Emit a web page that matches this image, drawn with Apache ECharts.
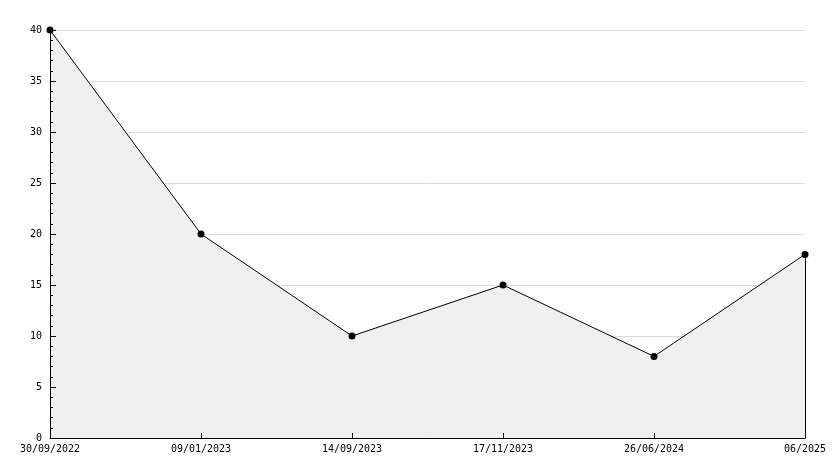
<!DOCTYPE html>
<html><head><meta charset="utf-8">
<script src="https://cdn.jsdelivr.net/npm/echarts@6/dist/echarts.min.js"></script>
<style>html,body{margin:0;padding:0;background:#fff}#c{width:834px;height:468px}</style>
</head><body><div id="c"></div>
<script>
const categories = ['30/09/2022','09/01/2023','14/09/2023','17/11/2023','26/06/2024','06/2025'];
const values = [40, 20, 10, 15, 8, 18];
const yTicks = {min: 0, max: 40, interval: 5};

const font = {fontFamily: 'DejaVu Sans Mono', fontSize: 10, color: '#000'};
const chart = echarts.init(document.getElementById('c'), null, {renderer: 'canvas'});
const last = categories.length - 1;
chart.setOption({
  animation: false,
  backgroundColor: '#fff',
  grid: {left: 50, right: 29, top: 30, bottom: 30, containLabel: false},
  xAxis: {
    type: 'category', data: categories, boundaryGap: false, z: 10,
    axisLine: {show: true, lineStyle: {color: '#000', width: 1}},
    axisTick: {show: true, inside: true, length: 5, alignWithLabel: true, lineStyle: {color: '#000'}},
    axisLabel: Object.assign({margin: 6, interval: 0, showMinLabel: true, showMaxLabel: true, hideOverlap: false}, font),
    splitLine: {show: false}
  },
  yAxis: [{
    type: 'value', min: yTicks.min, max: yTicks.max, interval: yTicks.interval, z: 0,
    axisLine: {show: false}, axisTick: {show: false}, axisLabel: {show: false},
    splitLine: {show: true, lineStyle: {color: '#dcdcdc', width: 1}}
  }, {
    type: 'value', position: 'left', min: yTicks.min, max: yTicks.max, interval: yTicks.interval, z: 10,
    axisLine: {show: true, lineStyle: {color: '#000', width: 1}},
    axisTick: {show: true, inside: true, length: 6, lineStyle: {color: '#000'}},
    minorTick: {show: true, splitNumber: 5, length: 3, lineStyle: {color: '#000'}},
    axisLabel: Object.assign({margin: 8}, font),
    splitLine: {show: false}
  }],
  series: [{
    type: 'line', data: values, yAxisIndex: 0,
    symbol: 'circle', symbolSize: 7,
    itemStyle: {color: '#000'},
    lineStyle: {color: '#000', width: 1},
    areaStyle: {color: '#f0f0f0', opacity: 1},
    markLine: {
      silent: true, symbol: ['none','none'], label: {show: false},
      lineStyle: {color: '#000', width: 1, type: 'solid'},
      data: [[{coord: [categories[last], 0]}, {coord: [categories[last], values[last]]}]]
    }
  }]
});
</script></body></html>
